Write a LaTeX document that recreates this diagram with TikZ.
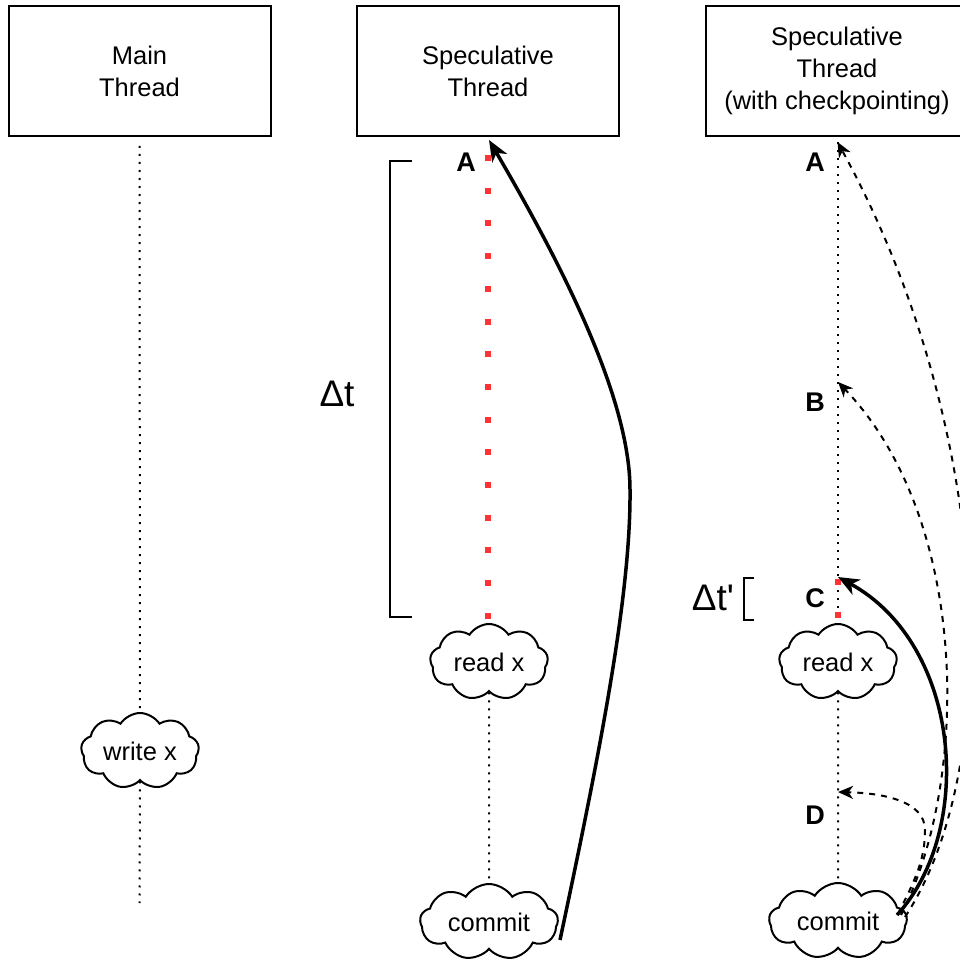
\documentclass[tikz,border=0pt]{standalone}
\usepackage{fontspec}
\setmainfont{Liberation Sans}
\usetikzlibrary{arrows.meta,shapes.symbols}
\definecolor{hotred}{RGB}{255,51,51}
\begin{document}
\begin{tikzpicture}[x=1pt,y=-1pt,
  threadbox/.style={draw,line width=2pt,minimum width=262pt,minimum height=130pt,
    align=center,inner sep=0pt,font=\fontsize{25.5}{32}\selectfont},
  event/.style={cloud,draw,line width=2pt,cloud puffs=9,cloud puff arc=115,
    cloud ignores aspect,minimum width=118pt,minimum height=76pt,inner sep=0pt,
    font=\fontsize{25.5}{30}\selectfont},
  wideevent/.style={event,minimum width=138pt},
  pointlabel/.style={font=\fontsize{27}{27}\selectfont\bfseries,inner sep=0pt},
  deltalabel/.style={font=\fontsize{37}{37}\selectfont,inner sep=0pt},
  timeline/.style={line width=2pt,dash pattern=on 2pt off 6pt},
  conflict/.style={hotred,line width=6pt,dash pattern=on 6pt off 26.7pt},
  bracket/.style={line width=2pt},
  rollback/.style={line width=3.5pt,-{Stealth[length=21pt,width=17pt,inset=6pt]}},
  checkpoint/.style={line width=2pt,dash pattern=on 6pt off 6pt,
    -{Stealth[length=15pt,width=13pt,inset=4.5pt]}}]
\useasboundingbox (0,0) rectangle (959,960);

% thread headers
\node[threadbox] (main) at (139.5,71) {Main\\Thread};
\node[threadbox] (spec) at (488,71) {Speculative\\Thread};
\node[threadbox] (ckpt) at (837,71) {Speculative\\Thread\\(with checkpointing)};

% events
\node[event] (write) at (140,751) {write x};
\node[event] (read1) at (489,662) {read x};
\node[wideevent] (commit1) at (489,922) {commit};
\node[event] (read2) at (838,662) {read x};
\node[wideevent] (commit2) at (838,921) {commit};

% main thread timeline
\coordinate (m0) at (139.5,146);
\coordinate (m1) at (139.5,903);
\draw[timeline] (m0) -- (write.north);
\draw[timeline] (write.south) -- (m1);

% speculative thread timeline
\coordinate (sA) at (488,155);
\coordinate (sR) at (488,619);
\draw[conflict] (sA) -- (sR);
\draw[timeline] (read1.south) -- (commit1.north);
\node[pointlabel] (labA1) at (466,162) {A};

% checkpointing thread timeline
\coordinate (cA) at (837.5,142);
\coordinate (cB) at (838,382);
\coordinate (cC) at (838,577);
\coordinate (cC0) at (837.5,579);
\coordinate (cR) at (837.5,619);
\coordinate (cD) at (838,792);
\draw[timeline] (cA) -- (cR);
\draw[conflict] (cC0) -- (cR);
\draw[timeline] (read2.south) -- (commit2.north);
\node[pointlabel] (labA2) at (815,162) {A};
\node[pointlabel] (labB) at (815,402) {B};
\node[pointlabel] (labC) at (815,598) {C};
\node[pointlabel] (labD) at (815,815) {D};

% delta-t brackets
\coordinate (bt0) at (412,161);
\coordinate (bt1) at (390,161);
\coordinate (bt2) at (390,617);
\coordinate (bt3) at (412,617);
\draw[bracket] (bt0) -- (bt1) -- (bt2) -- (bt3);
\node[deltalabel] (dt) at (337,394) {Δt};
\coordinate (bc0) at (754,578);
\coordinate (bc1) at (744,578);
\coordinate (bc2) at (744,620);
\coordinate (bc3) at (754,620);
\draw[bracket] (bc0) -- (bc1) -- (bc2) -- (bc3);
\node[deltalabel] (dtp) at (713,598) {Δt\textquotesingle};

% rollback connectors
\coordinate (s1) at (560,940);
\coordinate (knee) at (630,490);
\coordinate (specTip) at (489,140);
\draw[rollback] (s1) .. controls (596,770) and (631,600) .. (knee)
  .. controls (630,400) and (565,270) .. (specTip);
\coordinate (s2) at (897,915);
\draw[rollback] (s2) .. controls (975,830) and (962,645) .. (cC);

% checkpoint restore connectors
\coordinate (s3) at (905,917);
\draw[checkpoint] (s3) .. controls (1008,760) and (990,420) .. (cA);
\coordinate (s4) at (901,915);
\draw[checkpoint] (s4) .. controls (970,780) and (970,520) .. (cB);
\coordinate (s5) at (898,914);
\coordinate (dknee) at (925,830);
\draw[checkpoint] (s5) .. controls (915,880) and (925,860) .. (dknee)
  .. controls (925,800) and (880,793) .. (cD);
\end{tikzpicture}
\end{document}
